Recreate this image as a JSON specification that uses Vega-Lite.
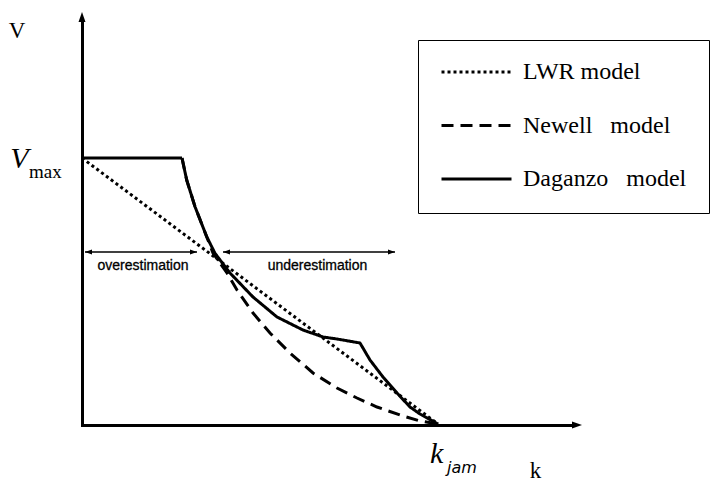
{
  "$schema": "https://vega.github.io/schema/vega-lite/v6.json",
  "autosize": "none",
  "padding": {"left": 82, "top": 20, "right": 144, "bottom": 63},
  "width": 492,
  "height": 405,
  "background": "white",
  "config": {
    "view": {"stroke": null},
    "axis": {
      "domain": true, "domainColor": "black", "domainWidth": 3, "domainCap": "square",
      "ticks": false, "labels": false, "grid": false,
      "titleFont": "Liberation Serif", "titleFontSize": 23, "titleFontWeight": "normal",
      "titleColor": "black", "titleAngle": 0, "titleAlign": "center", "titleBaseline": "alphabetic"
    }
  },
  "datasets": {
    "curves": [
      {"model": "LWR model", "k": 0, "v": 267},
      {"model": "LWR model", "k": 356, "v": 1},
      {"model": "Newell model", "k": 100, "v": 267},
      {"model": "Newell model", "k": 104.7, "v": 245},
      {"model": "Newell model", "k": 113, "v": 218.3},
      {"model": "Newell model", "k": 124.7, "v": 188.3},
      {"model": "Newell model", "k": 131, "v": 172},
      {"model": "Newell model", "k": 145, "v": 152},
      {"model": "Newell model", "k": 155, "v": 135},
      {"model": "Newell model", "k": 171, "v": 112},
      {"model": "Newell model", "k": 188, "v": 92},
      {"model": "Newell model", "k": 208, "v": 72},
      {"model": "Newell model", "k": 231, "v": 52},
      {"model": "Newell model", "k": 255, "v": 37},
      {"model": "Newell model", "k": 275, "v": 27},
      {"model": "Newell model", "k": 295, "v": 18},
      {"model": "Newell model", "k": 321, "v": 9},
      {"model": "Newell model", "k": 338, "v": 4},
      {"model": "Newell model", "k": 356, "v": 1},
      {"model": "Daganzo model", "k": 0, "v": 267},
      {"model": "Daganzo model", "k": 100, "v": 267},
      {"model": "Daganzo model", "k": 104.7, "v": 245},
      {"model": "Daganzo model", "k": 113, "v": 218.3},
      {"model": "Daganzo model", "k": 124.7, "v": 188.3},
      {"model": "Daganzo model", "k": 133, "v": 171.7},
      {"model": "Daganzo model", "k": 148, "v": 152},
      {"model": "Daganzo model", "k": 171, "v": 128},
      {"model": "Daganzo model", "k": 195, "v": 108},
      {"model": "Daganzo model", "k": 221, "v": 95},
      {"model": "Daganzo model", "k": 241, "v": 88},
      {"model": "Daganzo model", "k": 255, "v": 86},
      {"model": "Daganzo model", "k": 278, "v": 82},
      {"model": "Daganzo model", "k": 288, "v": 65},
      {"model": "Daganzo model", "k": 301, "v": 48},
      {"model": "Daganzo model", "k": 315, "v": 32},
      {"model": "Daganzo model", "k": 328, "v": 18},
      {"model": "Daganzo model", "k": 338, "v": 11},
      {"model": "Daganzo model", "k": 356, "v": 1}
    ],
    "axisArrows": [
      {"dir": "up", "k": 0, "v": 408},
      {"dir": "right", "k": 495, "v": 0}
    ],
    "ranges": [
      {"label": "overestimation", "k": 3, "k2": 115, "v": 173, "labelK": 61},
      {"label": "underestimation", "k": 141, "k2": 313, "v": 173, "labelK": 235.5}
    ],
    "marks": [
      {"name": "Vmax", "k": 0, "v": 267},
      {"name": "kjam", "k": 356, "v": 0}
    ]
  },
  "encoding": {
    "x": {"field": "k", "type": "quantitative", "scale": {"domain": [0, 492], "nice": false, "zero": false},
          "axis": {"title": "k", "titleX": 453, "titleY": 52, "titleFont": "Liberation Serif", "titleFontSize": 23, "titleFontWeight": "normal"}},
    "y": {"field": "v", "type": "quantitative", "scale": {"domain": [0, 405], "nice": false, "zero": false},
          "axis": {"title": "V", "titleX": -65.5, "titleY": 17, "titleFont": "Liberation Serif", "titleFontSize": 23, "titleFontWeight": "normal"}}
  },
  "layer": [
    {
      "data": {"name": "curves"},
      "mark": {"type": "line", "color": "black", "strokeWidth": 3},
      "encoding": {
        "strokeDash": {
          "field": "model", "type": "nominal",
          "scale": {"domain": ["LWR model", "Newell model", "Daganzo model"], "range": [[3, 3], [12, 7], [1, 0]]},
          "legend": {
            "orient": "none", "legendX": 336, "legendY": 20, "title": null,
            "symbolType": "stroke", "symbolSize": 4900, "symbolStrokeWidth": 3, "symbolStrokeColor": "black",
            "clipHeight": 20, "rowPadding": 29.5, "padding": 22,
            "labelFont": "Liberation Serif", "labelFontSize": 24, "labelColor": "black", "labelOffset": 10,
            "labelLimit": 400,
            "labelExpr": "datum.label == 'LWR model' ? datum.label : replace(datum.label, ' ', '\u00a0\u00a0\u00a0')",
            "strokeColor": "black", "fillColor": "white"
          }
        }
      }
    },
    {
      "data": {"name": "axisArrows"},
      "mark": {"type": "point", "filled": true, "color": "black", "size": 100, "opacity": 1},
      "encoding": {
        "shape": {"field": "dir", "type": "nominal",
                  "scale": {"domain": ["up", "right"], "range": ["M0,-1L0.7,1L-0.7,1Z", "M1,0L-1,-0.7L-1,0.7Z"]},
                  "legend": null}
      }
    },
    {
      "data": {"name": "ranges"},
      "mark": {"type": "rule", "color": "black", "strokeWidth": 1.5},
      "encoding": {
        "x2": {"field": "k2"}
      }
    },
    {
      "data": {"name": "ranges"},
      "mark": {"type": "point", "filled": true, "color": "black", "size": 49, "opacity": 1,
               "shape": "M-1,0L1,-0.7L1,0.7Z", "xOffset": 3.5}
    },
    {
      "data": {"name": "ranges"},
      "mark": {"type": "point", "filled": true, "color": "black", "size": 49, "opacity": 1,
               "shape": "M1,0L-1,-0.7L-1,0.7Z", "xOffset": -3.5},
      "encoding": {
        "x": {"field": "k2", "type": "quantitative", "title": "k"}
      }
    },
    {
      "data": {"name": "ranges"},
      "mark": {"type": "text", "font": "Liberation Sans", "fontSize": 14, "color": "black",
               "align": "center", "baseline": "alphabetic", "dy": 18, "stroke": "black", "strokeWidth": 0.3},
      "encoding": {
        "x": {"field": "labelK", "type": "quantitative", "title": "k"},
        "text": {"field": "label"}
      }
    },
    {
      "data": {"name": "marks"},
      "transform": [{"filter": "datum.name == 'Vmax'"}],
      "mark": {"type": "text", "text": "V", "font": "Liberation Serif", "fontStyle": "italic", "fontSize": 30,
               "color": "black", "align": "center", "baseline": "alphabetic", "dx": -62.5, "dy": 10}
    },
    {
      "data": {"name": "marks"},
      "transform": [{"filter": "datum.name == 'Vmax'"}],
      "mark": {"type": "text", "text": "max", "font": "Liberation Serif", "fontSize": 19,
               "color": "black", "align": "left", "baseline": "alphabetic", "dx": -53, "dy": 20}
    },
    {
      "data": {"name": "marks"},
      "transform": [{"filter": "datum.name == 'kjam'"}],
      "mark": {"type": "text", "text": "k", "font": "Liberation Serif", "fontStyle": "italic", "fontSize": 30,
               "color": "black", "align": "left", "baseline": "alphabetic", "dx": -8, "dy": 38}
    },
    {
      "data": {"name": "marks"},
      "transform": [{"filter": "datum.name == 'kjam'"}],
      "mark": {"type": "text", "text": "jam", "font": "DejaVu Sans", "fontStyle": "italic", "fontSize": 16,
               "color": "black", "align": "left", "baseline": "alphabetic", "dx": 9, "dy": 48}
    }
  ]
}
